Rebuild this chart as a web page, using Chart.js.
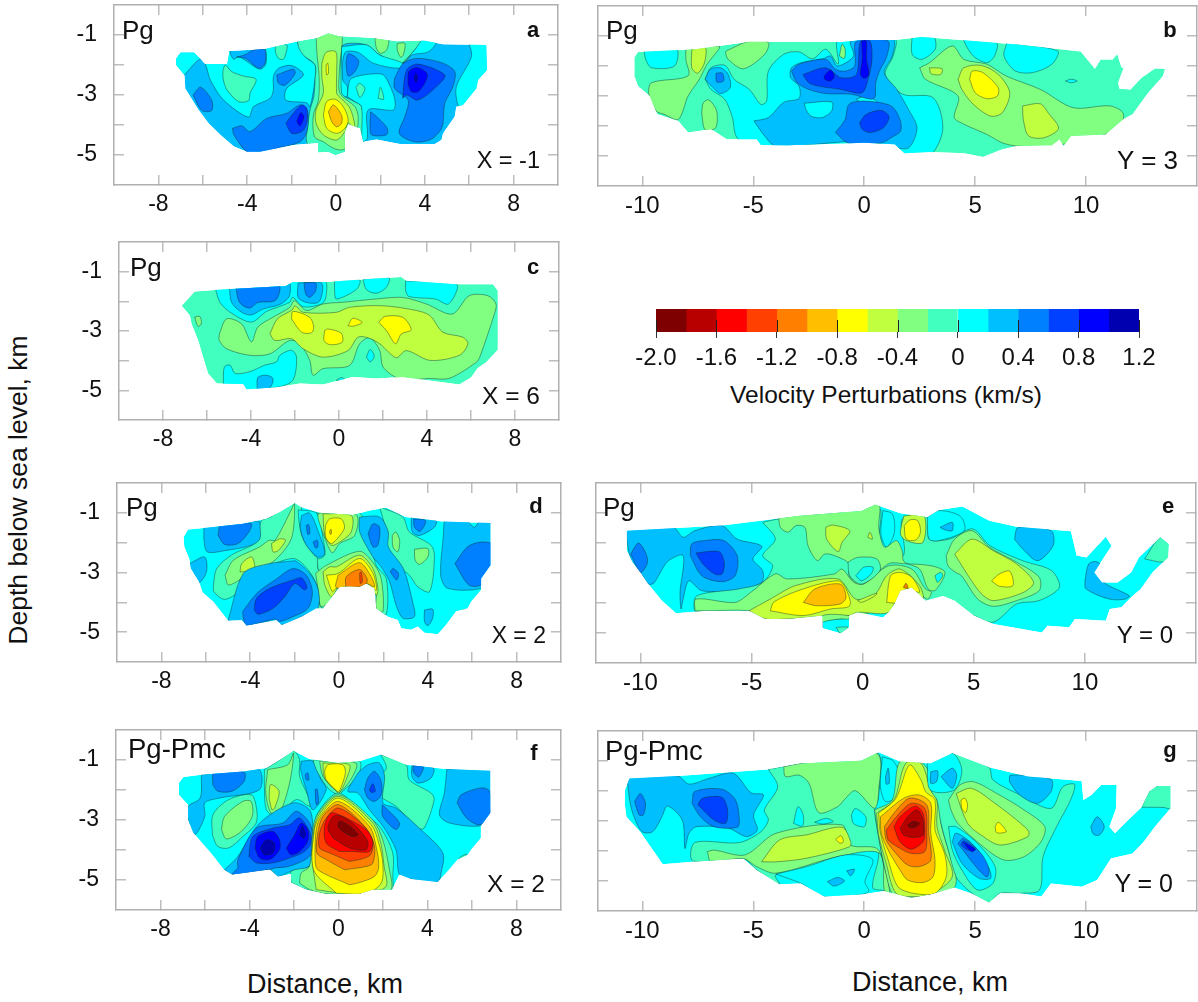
<!DOCTYPE html>
<html><head><meta charset="utf-8">
<script src="https://cdn.jsdelivr.net/npm/chart.js@4"></script>
<style>
html,body{margin:0;padding:0;background:#fff;width:1198px;height:1002px;overflow:hidden;font-family:"Liberation Sans",Arial,sans-serif;color:#111}
canvas{position:absolute}
.t{position:absolute;white-space:nowrap;line-height:1;transform:translateY(-50%)}
</style></head><body>
<script>
const bandEdges=[-2,-1.8,-1.6,-1.4,-1.2,-1,-0.8,-0.6,-0.4,-0.2,0,0.2,0.4,0.6,0.8,1];
const bandColors=['#7f0000','#b80000','#ff0000','#ff4000','#ff8000','#ffbf00','#ffff00','#bfff40','#80ff80','#40ffbf','#00ffff','#00bfff','#0080ff','#0040ff','#0000ff','#0000b0'];
const colorbarTicks=[-2,-1.6,-1.2,-0.8,-0.4,0,0.4,0.8,1.2];
const colorbarLabels=['-2.0','-1.6','-1.2','-0.8','-0.4','0','0.4','0.8','1.2'];
const shortDistanceTicks=[-8,-6,-4,-2,0,2,4,6,8];
const shortDistanceLabels=[-8,-4,0,4,8];
const longDistanceTicks=[-10,-5,0,5,10];
const longDistanceLabels=[-10,-5,0,5,10];
const depthTicks=[-5,-4,-3,-2,-1];
const depthLabels=[-1,-3,-5];

const aOutline=[-7.2,-1.78,-7,-1.58,-6.4,-1.58,-6.1,-1.8,-5.9,-1.97,-4.9,-1.97,-4.8,-1.53,-3.2,-1.47,-1.7,-1.22,-.87,-1.11,-.35,-.95,.18,-1.05,1.68,-1.11,2.73,-1.22,4,-1.19,4.82,-1.31,6.77,-1.33,6.8,-2.17,6.4,-2.5,6.32,-2.78,5.72,-3.33,5.42,-3.39,5.35,-3.72,4.82,-4.28,4.75,-4.5,4.45,-4.63,2.88,-4.63,1.83,-4.48,1.23,-4.56,1.08,-4.11,.55,-3.97,.4,-4.22,.4,-4.89,-.04,-5,-.34,-4.89,-.8,-4.91,-.8,-4.59,-1.92,-4.67,-3.42,-4.89,-4.01,-4.89,-4.6,-4.72,-5.2,-4.33,-5.74,-3.94,-6.19,-3.5,-6.79,-2.78,-6.83,-2.33,-7.2,-2];
const aBase=0.2;
const aContours=[
[0,[-6.83,-2.33,-6.14,-1.81,-5.89,-1.97,-5.66,-2.5,-5.06,-3.17,-3.94,-3.74,-3.72,-3.39,-2.97,-3.11,-2.82,-2.83,-2.82,-2.39,-2.59,-2.11,-1.99,-2.02,-1.47,-2.33,-2.22,-2.78,-2.26,-3.17,-1.32,-3.26,-1.17,-3.39,-.94,-2.44,-.94,-2,-1.39,-1.72,-1.77,-1.17,-1.77,-.8,-3.12,-.8,-3.15,-1.94,-3.42,-2.14,-4.16,-1.81,-4.39,-1.72,-4.61,-1.81,-4.79,-1.53,-4.91,-.8,-7.46,-.8,-7.46,-2.06]],
[.4,[-4.48,-1.74,-4.1,-1.66,-3.72,-1.5,-3.2,-1.5,-3.2,-1.94,-3.48,-2.11,-4.07,-1.78]],
[.4,[-2.67,-2.33,-1.92,-2.14,-1.84,-2.28,-2.29,-2.67,-2.59,-2.61]],
[-.2,[-5.09,-2.17,-4.99,-2,-4.7,-2.22,-4.16,-2.37,-3.6,-2.48,-3.87,-2.94,-3.94,-3.19,-4.39,-3.22,-4.91,-2.83,-5.09,-2.44]],
[-.2,[-2.73,-1.33,-2.22,-1.33,-2.22,-1.5,-2.37,-1.81,-2.59,-1.78,-2.73,-1.56]],
[-.2,[-1.77,-.8,-1.69,-1.39,-1.47,-1.67,-.94,-2,-.94,-2.44,-1,-3.06,-1.17,-3.5,-1.32,-4.28,-1.32,-4.56,-.79,-5.44,.4,-5.44,.4,-4.22,1.23,-4.56,1.15,-3.39,.7,-3.17,.33,-3,.25,-2.28,.25,-1.39,.55,-1.28,1.38,-1.33,1.98,-1.67,3,-1.94,3.54,-1.5,4.08,-1.06,4.08,-.7,-1.77,-.7]],
[-.4,[-.9,-.8,-.87,-1.5,-.76,-2.39,-.79,-3.17,-1.02,-3.67,-.97,-4.39,-.57,-4.56,-.04,-4.8,.4,-4.8,.93,-4.17,1,-3.72,.85,-3.39,.18,-2.94,.15,-2.22,.21,-.8]],
[-.4,[1.75,-1.11,2.35,-1.11,2.28,-1.5,2,-1.61,1.82,-1.44]],
[-.4,[2.76,-1.28,3.1,-1.28,3.03,-1.67,2.91,-1.74,2.76,-1.5]],
[-.6,[-.64,-1.94,-.45,-1.58,-.01,-1.56,.03,-2.22,.03,-2.94,.15,-3.06,.63,-3.44,.85,-4.11,.55,-3.94,.4,-4.22,.03,-4.5,-.57,-4.33,-.9,-3.94,-.9,-3.5,-.57,-2.94,-.64,-2.39]],
[-.8,[-.45,-2,-.37,-1.94,-.34,-2.28,-.42,-2.33]],
[-.8,[-.57,-3.67,-.42,-3.22,-.04,-3.14,.33,-3.39,.55,-3.83,.4,-4.11,.03,-4.28,-.42,-4.11]],
[-1,[-.34,-3.56,-.12,-3.33,.25,-3.67,.25,-3.94,.03,-4.06,-.19,-3.89]],
[0,[.25,-1.39,1.38,-1.33,1.98,-1.67,3,-1.94,2.85,-2.11,1.68,-1.94,1,-1.58,.4,-1.59,.3,-2.5,.51,-2.72,.48,-3.06,.25,-2.94]],
[0,[.51,-3.06,.63,-2.5,1,-2.37,1.6,-2.3,2.13,-2.33,2.51,-2.83,2.66,-3.22,2.58,-3.5,1.45,-3.5,1.41,-4.44,1.18,-4.56,1.15,-3.39,.85,-3.22]],
[-.2,[.9,-2.75,1.05,-2.61,1.3,-2.78,1.08,-3.08]],
[-.2,[1.9,-3.11,2,-2.74,2.15,-3.14]],
[0,[3,-1.94,3.4,-1.67,4.16,-1.56,4.52,-1.22,4.1,-1,3.54,-1.5]],
[0,[5.96,-1.2,6.1,-1.72,5.42,-2.72,5.49,-3.33,5.72,-3.5,7,-2.61,7,-1.1]],
[.4,[2.64,-2.44,3.03,-1.94,3.7,-1.78,4.82,-1.94,5.35,-2.22,5.27,-2.72,4.9,-3.28,4.82,-3.94,4.67,-4.22,4.22,-4.5,3.54,-4.56,2.85,-4.28,3.1,-3.72,3.25,-3.17,2.64,-2.78]],
[.6,[3.0,-3.11,3.18,-2.17,3.7,-1.97,4.9,-2.33,4.6,-2.67,3.7,-3.17,3.18,-3]],
[.8,[3.25,-2.67,3.28,-2.22,3.63,-2.08,4.1,-2.28,4.03,-2.56,3.7,-2.89,3.4,-2.89]],
[1,[3.52,-2.44,3.6,-2.28,3.67,-2.44,3.6,-2.58]],
[.4,[.45,-1.94,.55,-1.63,.85,-1.72,1.03,-1.89,.85,-2.22,.55,-2.37]],
[.4,[-6.44,-3,-6.1,-2.74,-5.6,-3.17,-5.6,-3.52,-6.04,-3.52]],
[.4,[-4.66,-4.11,-4.24,-4.03,-3.87,-4.22,-3.12,-3.78,-2.22,-3.61,-1.62,-3.33,-1.29,-3.5,-1.29,-4.17,-1.62,-4.56,-2.67,-4.78,-3.57,-5,-4.03,-4.89,-4.6,-4.33]],
[.6,[-2.26,-3.94,-1.92,-3.61,-1.54,-3.33,-1.32,-3.44,-1.32,-3.94,-1.54,-4.22,-1.99,-4.28]],
[.8,[-1.77,-3.89,-1.59,-3.59,-1.44,-3.72,-1.62,-4.03]],
[.4,[1.56,-3.56,1.83,-3.72,2.31,-4.11,2.27,-4.33,1.6,-4.33,1.53,-4.06]]
];

const bOutline=[-10.36,-1.72,-10.2,-1.53,-7.6,-1.44,-5.18,-1.19,-1.04,-1.2,0,-1.13,1.38,-1.13,2.6,-1.03,4.5,-1.14,6.9,-1.28,9.76,-1.52,10.4,-2.09,10.66,-1.78,11.2,-1.78,11.4,-1.6,11.6,-2.05,11.7,-2.05,11.45,-2.55,11.5,-2.76,12,-2.78,12.5,-2.39,13.1,-2.08,13.56,-2.09,13.47,-2.33,12.8,-2.89,12.1,-3.61,11.66,-3.78,10.88,-4.28,9.33,-4.33,8.98,-4.67,8.81,-4.44,8.46,-4.64,6.9,-4.67,6.2,-4.78,5.35,-5.03,4.5,-4.91,2.94,-4.87,1.81,-4.91,1.38,-4.61,0,-4.56,-3.45,-4.64,-4.66,-4.63,-4.84,-4.44,-6.2,-4.44,-6.9,-4.11,-7.94,-4.22,-8.38,-3.83,-9.33,-3.61,-9.67,-3,-10.2,-2.67,-10.36,-2.33];
const bBase=-0.2;
const bContours=[
[-.4,[-8.04,-1.42,-6.53,-1.33,-6.56,-1.44,-7.08,-1.94,-7.43,-2.44,-7.94,-3,-8.38,-3.78,-9.02,-3.61,-9.38,-3.5,-9.71,-2.94,-9.59,-2.56,-7.94,-2.33,-8.04,-1.78]],
[-.6,[-7.77,-1.44,-7.17,-1.37,-7.2,-1.89,-7.51,-2.24,-7.77,-2.06]],
[0,[-9.93,-1.44,-8.46,-1.44,-8.55,-2,-9.58,-2.06,-9.85,-1.78]],
[-.4,[-6.22,-1.5,-5.18,-1.17,-4.32,-1.22,-4.49,-1.61,-5.44,-2.09,-6.13,-1.78,-6.25,-1.56]],
[-.4,[-7.33,-3.56,-7.25,-3.22,-7,-3.13,-6.65,-3.5,-6.7,-4.06,-7.17,-4.13]],
[0,[-7.17,-2.44,-6.91,-2.06,-6.27,-1.98,-5.87,-2.44,-5.18,-2.78,-4.66,-3.28,-4.4,-3.17,-4.32,-2.17,-3.63,-1.61,-2.94,-1.53,-2.33,-1.76,-1.73,-1.44,-1.17,-1.94,-1.17,-1.1,1.38,-1.1,1.3,-1.67,.95,-2.28,1.73,-2.94,3.11,-3.06,3.54,-4.11,2.94,-5,1.55,-5.1,-3.95,-4.94,-5.68,-4.44,-5.96,-3.67,-6.3,-3.1,-6.91,-2.78]],
[.2,[-4.97,-3.83,-4.32,-3.72,-3.63,-3.21,-2.94,-3.08,-2.94,-2.67,-3.32,-2.39,-3.28,-2.06,-2.85,-1.89,-1.88,-1.76,-1.52,-1.67,-1.21,-2,-.48,-1.67,-.6,-1.17,1.3,-1.11,1.26,-1.67,.9,-2.22,1.47,-2.78,1.99,-3.44,2.38,-4.06,2.02,-4.72,1.38,-4.72,0,-4.5,-3.98,-4.67,-4.49,-4.33]],
[0,[-2.7,-3.24,-1.47,-3.2,-1.47,-3.5,-1.9,-3.72,-2.4,-3.67,-2.63,-3.44]],
[0,[-.35,-3.11,.09,-3,.6,-3.22,0,-3.28]],
[.2,[-7.17,-2.44,-6.94,-2.11,-6.47,-2.06,-6.13,-2.28,-6.04,-2.72,-6.47,-2.92,-6.82,-2.72]],
[.4,[-6.68,-2.24,-6.39,-2.24,-6.34,-2.5,-6.65,-2.53]],
[.4,[-3.28,-2.17,-2.94,-1.94,-1.73,-1.78,-1.3,-2.11,-.86,-2.17,-.43,-2,-.35,-1.17,1.07,-1.17,1,-1.72,.69,-2.17,.52,-2.56,.43,-3.09,-.6,-2.94,-1.73,-2.92,-2.5,-2.78,-3.02,-2.56]],
[.6,[-2.76,-2.28,-1.73,-2.06,-1.04,-2.39,-.35,-2.28,-.17,-1.17,.26,-1.17,.35,-1.78,.21,-2.33,-.09,-2.89,-1.04,-2.78,-2.07,-2.67,-2.5,-2.56]],
[.8,[-.12,-1.17,.09,-1.17,.1,-1.78,.21,-2.28,0,-2.41,-.17,-2.28,-.09,-1.78]],
[.8,[-1.81,-2.33,-1.52,-2.13,-1.35,-2.33,-1.52,-2.5,-1.78,-2.44]],
[.4,[-1.3,-4.22,-.86,-3.78,-.69,-3.28,0,-3.17,1.21,-3.33,1.61,-3.78,1.64,-4.17,1.21,-4.39,.78,-4.56,-.69,-4.58]],
[.6,[-.21,-3.89,.09,-3.61,.78,-3.48,1.12,-3.69,.86,-4.06,.26,-4.22,-.09,-4.11]],
[0,[2.16,-1,3.11,-1,3.2,-1.44,2.59,-1.78,2.16,-1.61]],
[0,[4.49,-1,5.96,-1.22,5.87,-1.67,5.53,-1.89,4.92,-1.67,4.49,-1.17]],
[0,[6.43,-1.22,8.72,-1.5,8.46,-1.94,7.59,-2.22,6.82,-2.17,6.3,-1.67]],
[-.4,[2.5,-2.06,2.94,-1.89,3.97,-1.33,4.49,-1.78,5.53,-1.94,6.39,-2.33,7.94,-2.78,9.42,-3.39,11.07,-3.33,11.66,-3.56,11.57,-4,10.88,-4.28,8.46,-4.67,6.9,-4.67,6.22,-4.56,5.53,-4.28,4.49,-3.94,4.06,-3.72,4.23,-3,2.76,-2.44]],
[-.6,[4.23,-2.44,4.49,-2.06,5.27,-1.98,6.04,-2.28,6.56,-2.89,6.22,-3.56,5.7,-3.67,4.92,-3.28,4.4,-2.78]],
[-.6,[2.94,-2.06,3.51,-2.09,3.45,-2.28,3.02,-2.26]],
[-.6,[7.14,-3.33,7.94,-3.26,8.29,-3.56,8.76,-4.08,8.11,-4.39,7.41,-4.33,7.17,-3.78]],
[-.8,[4.75,-2.44,4.87,-2.17,5.35,-2.22,6.04,-2.72,6,-3,5.53,-3.09,5,-2.89]],
[0,[9.07,-2.5,9.33,-2.44,9.6,-2.5,9.33,-2.56]],
[-.4,[-1.12,-1.67,-1,-1.28,-.86,-1.44,-.9,-1.75]]
];

const cOutline=[-7.15,-2.15,-6.56,-1.67,-5.5,-1.61,-2.43,-1.48,-2.1,-1.35,-.57,-1.35,1.69,-1.23,2.83,-1.18,3.06,-1.31,5.32,-1.42,7,-1.42,7.22,-1.64,7.22,-3.63,6.69,-4.05,6.31,-4.25,6,-4.57,5.47,-4.8,2.9,-4.55,1.69,-4.6,.63,-4.55,-.73,-4.8,-1.78,-4.77,-2.84,-4.9,-4.2,-4.96,-4.35,-4.79,-5.55,-4.77,-5.95,-4.43,-6.18,-3.88,-6.4,-3.32,-6.7,-2.76,-6.78,-2.48];
const cBase=-0.2;
const cContours=[
[0,[-5.7,-1.3,-5.41,-2.04,-4.82,-2.43,-3.98,-2.7,-3.29,-2.34,-2.25,-2.04,-2.1,-1.87,-1.63,-2.18,-.8,-2.09,-.6,-1.87,-.65,-1.3,-2.25,-1.3]],
[.2,[-4.99,-1.49,-4.88,-2.04,-4.43,-2.37,-3.98,-2.46,-3.45,-2.26,-2.67,-2.1,-2.25,-1.81,-2.33,-1.3,-4.99,-1.3]],
[.2,[-1.86,-1.38,-1.86,-1.87,-1.48,-2.04,-.95,-2.04,-.77,-1.76,-.8,-1.38]],
[.4,[-4.7,-1.49,-4.52,-2.04,-4.07,-2.23,-3.69,-2.04,-2.91,-1.98,-2.69,-1.64,-2.76,-1.4,-4.7,-1.4]],
[.4,[-1.59,-1.38,-1.51,-1.76,-1.33,-1.87,-1.06,-1.64,-1.06,-1.38]],
[0,[-.2,-1.3,.94,-1.28,.79,-1.6,-.12,-1.92,-.2,-1.64]],
[0,[1.09,-1.25,2.27,-1.2,2.15,-1.53,1.69,-1.73,1.24,-1.6]],
[0,[3.03,-1.31,5.35,-1.42,4.98,-2.09,4.37,-1.92,3.18,-1.84,3.03,-1.64]],
[-.4,[-5.44,-3.1,-5.11,-2.59,-4.43,-2.76,-3.98,-3.37,-3.69,-2.87,-3.01,-2.54,-2.25,-2.21,-2.02,-1.98,-1.48,-2.31,-.73,-2.09,.18,-2.03,1.69,-1.92,2.9,-1.87,3.97,-2.09,5.15,-2.43,5.92,-1.81,6.77,-1.81,7.14,-2.09,7.06,-2.43,6.4,-3.88,6.25,-4.05,5,-4.6,4.1,-4.6,3.2,-4.65,2.67,-4.6,2,-4.21,1.85,-3.65,1.4,-3.23,.94,-3.43,.48,-4.16,-.73,-4.27,-1.18,-4.49,-1.33,-3.99,-1.78,-3.43,-2.25,-3.32,-3.14,-3.77,-4.05,-3.82,-5.11,-3.6,-5.44,-3.32]],
[-.6,[-3.14,-3.1,-2.8,-2.59,-2.13,-2.29,-2,-2.15,-1.63,-2.37,-.12,-2.37,.48,-2.2,2,-2.15,3.52,-2.31,4.13,-2.48,4.72,-3.04,5.63,-3.21,5.86,-3.43,5.47,-3.82,4.13,-3.99,3.06,-3.66,2.6,-3.9,1.85,-3.43,1.32,-3.23,.86,-3.21,.41,-3.66,-.73,-3.88,-1.63,-3.6,-2.16,-3.26,-2.91,-3.32]],
[-.8,[-2.16,-2.59,-2.09,-2.34,-1.33,-2.54,-1.15,-2.87,-1.25,-3.06,-1.7,-3.04]],
[-.8,[-.65,-2.98,-.5,-2.93,.11,-3.08,.14,-3.38,-.42,-3.46,-.68,-3.32]],
[-.8,[.41,-2.82,.63,-2.57,1.05,-2.71,.63,-2.84]],
[-.8,[1.81,-2.71,2.07,-2.51,2.9,-2.54,3.28,-2.96,2.83,-3.1,2.57,-3.43,2.15,-2.98]],
[-.4,[-6.56,-2.53,-6.32,-2.51,-6.26,-2.76,-6.41,-2.84]],
[0,[-5.26,-4.77,-5.21,-4.21,-4.95,-4.15,-4.72,-4.43,-4.05,-4.37,-3.37,-4.15,-2.84,-4.04,-2.69,-3.82,-2.16,-3.65,-1.93,-3.88,-2.1,-4.66,-2.84,-4.9,-5.26,-5]],
[.2,[-3.72,-5,-3.69,-4.57,-3.31,-4.49,-3,-4.6,-3.14,-4.91]],
[0,[1.24,-3.88,1.42,-3.62,1.6,-3.85,1.42,-4.04]],
[0,[-.12,-4.66,.11,-4.57,.3,-4.66]]
];

const dOutline=[-7,-1.81,-6.8,-1.56,-5.97,-1.5,-4.31,-1.37,-3.27,-1.2,-2.67,-.98,-2,-.68,-1.69,-.81,-.87,-1,.63,-1.07,1.38,-.92,2.13,-.83,3,-1.14,4.67,-1.29,6.82,-1.34,6.82,-2.76,6.4,-3.2,6.4,-3.59,5.95,-3.98,5.8,-4.2,5.27,-4.31,4.82,-4.76,4.45,-5.07,3.85,-5.02,3.55,-4.81,3.25,-4.92,2.8,-4.87,2.65,-4.59,2.2,-4.48,1.68,-4.2,1.6,-3.53,1.23,-3.37,.93,-3.48,.48,-3.46,.03,-3.48,-.72,-4.2,-1.02,-4.2,-1.69,-4.48,-2.58,-4.76,-2.82,-4.59,-4.16,-4.78,-4.38,-4.59,-5,-4.61,-5.66,-3.98,-6.15,-3.66,-6.3,-3.32,-6.67,-2.87,-6.75,-2.53,-6.97,-2.14];
const dBase=0;
const dContours=[
[.2,[-6.08,-1.45,-3.96,-1.3,-3.57,-1.3,-3.51,-1.87,-3.96,-2.09,-5.08,-2.26,-5.93,-2.31,-6.08,-1.92]],
[.2,[-6.73,-2.7,-6.05,-2.48,-5.97,-2.98,-6.37,-3.37,-6.82,-2.81]],
[.4,[-5.45,-1.76,-5.3,-1.37,-3.96,-1.37,-4.06,-1.64,-4.55,-2.03,-5.15,-2.06]],
[-.2,[-5.66,-3.42,-5.51,-2.87,-4.85,-2.42,-3.6,-1.92,-3.52,-1.29,-3.1,-1.14,-2,-.66,-1.69,-.8,-1.78,-1.2,-1.63,-1.7,-.95,-2.42,-.95,-2.87,-.8,-3.04,-.95,-3.27,-.72,-4.2,-.95,-4.3,-.95,-3.59,-1.32,-2.98,-2.07,-2.53,-3.72,-3.03,-4.4,-3.59,-5.15,-3.9,-5.63,-3.65]],
[-.2,[-1,-.9,.93,-1,1.68,-2.76,2.13,-3.21,2.13,-4.4,1.68,-4.2,1.6,-3.53,-.72,-4.2,-.95,-3.27,-.8,-3.04,-.95,-2.87]],
[-.2,[1.83,-.8,2.87,-1.14,3.17,-1.64,4.15,-2.09,4.3,-2.48,4.08,-3.64,3.55,-3.48,3.17,-3.09,2.65,-2.76,2.13,-2.09,2.13,-1.64]],
[0,[-1.84,-.9,-1,-1.02,-.72,-1.87,-.64,-2.42,-.95,-2.53,-1.62,-1.87,-1.8,-1.31]],
[.2,[-1.69,-1.09,-1.32,-1.01,-.95,-1.59,-.64,-2.37,-.95,-2.48,-1.47,-2.09,-1.74,-1.53]],
[.4,[-1.47,-1.42,-1.36,-1.4,-1.32,-1.7,-1.41,-1.72]],
[.4,[-1.17,-1.98,-.98,-1.92,-.95,-2.14,-1.05,-2.18]],
[-.4,[-.95,-1.03,-.72,-1,.78,-1.07,.7,-1.76,.03,-2.03,-.3,-2.34,-.57,-1.98,-.94,-1.2]],
[-.6,[-.72,-1.03,.55,-1.09,.55,-1.64,.03,-1.98,-.34,-2.09,-.64,-1.76]],
[-.8,[-.61,-1.42,-.42,-1.2,.1,-1.2,.25,-1.48,.1,-1.7,-.34,-2.03,-.6,-1.81]],
[-1,[-.42,-1.62,-.36,-1.55,-.34,-1.7,-.4,-1.72]],
[-.4,[-1.05,-3.03,-.57,-2.76,.93,-2.29,1.53,-2.67,1.9,-3.2,1.98,-4.31,1.68,-4.2,1.6,-3.53,.03,-3.48,-.42,-3.98,-.81,-4.14,-.94,-3.59]],
[-.6,[-.72,-2.98,-.42,-2.81,-.12,-2.81,.93,-2.42,1.53,-2.87,1.75,-3.53,1.68,-3.76,1.3,-3.37,.03,-3.48,-.34,-3.81,-.64,-3.42]],
[-.8,[-.57,-3.09,-.04,-3.03,.93,-2.53,1.53,-3.03,1.68,-3.59,1.23,-3.37,-.12,-3.53,-.3,-3.64]],
[-1,[-.04,-3.09,.93,-2.67,1.45,-3.14,1.6,-3.48,1.23,-3.37,.9,-3.48,-.12,-3.51]],
[-1.2,[.3,-3.48,.33,-3.14,.93,-2.9,1.26,-3.2,1.23,-3.37,.93,-3.48]],
[-1.4,[.93,-3.03,1,-2.98,1.05,-3.31,.96,-3.37]],
[-.4,[-5.13,-3.09,-4.76,-2.59,-3.57,-2.14,-3.15,-1.92,-2.88,-1.92,-2.16,-.92,-2,-.69,-2.15,-1.87,-2.97,-2.64,-4,-3.03,-4.97,-3.42]],
[-.6,[-4.46,-2.98,-4.38,-2.7,-3.93,-2.48,-3.82,-2.92]],
[-.6,[-3.04,-2.03,-2.67,-1.87,-2.41,-1.92,-2.73,-2.26,-2.97,-2.31]],
[.2,[-5,-4.61,-4.31,-3.03,-3.27,-2.72,-2.16,-2.62,-1.93,-2.62,-1.32,-3.03,-.95,-3.53,-.95,-4.2,-1.69,-4.48,-2.58,-4.76,-3,-4.64,-4.16,-4.78]],
[.4,[-4.34,-4.31,-3.69,-3.69,-2.82,-3.22,-2.07,-2.87,-1.47,-3.09,-1.2,-3.64,-1.39,-4.2,-2.07,-4.48,-2.67,-4.64,-2.88,-4.56,-4.16,-4.78,-4.28,-4.64]],
[.6,[-3.82,-4.26,-3.72,-3.87,-3.12,-3.53,-2.07,-3.25,-1.69,-3.18,-1.44,-3.48,-1.54,-3.59,-1.99,-3.37,-2.44,-3.81,-2.97,-4.2,-3.64,-4.4]],
[.2,[.93,-1.14,1.83,-1.14,2.22,-1.64,2.22,-2.14,2.9,-2.87,3.33,-4.03,3.4,-4.48,2.88,-4.53,2.57,-4.09,2.28,-3.31,1.9,-2.81,1.53,-2.48,.93,-1.64]],
[.4,[1.31,-1.7,1.53,-1.37,1.83,-1.48,1.75,-2.09,1.53,-2.14]],
[.4,[2.31,-2.98,2.43,-2.87,2.68,-3.03,2.6,-3.25]],
[-.4,[2.4,-1.76,2.55,-1.64,2.73,-1.92,2.65,-2.31,2.43,-2.14]],
[-.4,[3.4,-2.22,4,-2.2,4,-2.48,3.63,-2.73,3.43,-2.59]],
[.2,[3.25,-1.14,4.37,-1.26,4.3,-1.48,3.63,-1.76,3.3,-1.64]],
[.4,[3.36,-1.2,3.9,-1.26,3.66,-1.62,3.4,-1.48]],
[.2,[4.74,-1.2,5.65,-1.2,6.1,-1.48,6.4,-1.2,7,-1.2,7,-3.09,6.4,-3.53,4.89,-3.53,4.58,-3.09,4.7,-1.76]],
[.4,[5.22,-2.7,5.79,-2.14,6.4,-1.98,7,-2.09,7,-2.98,6.4,-3.42,5.85,-3.42]],
[.2,[3.85,-4.26,4.22,-4.23,4.22,-4.53,4,-4.78,3.85,-4.64]],
[-.2,[5.35,-4.48,5.57,-4.26,5.92,-4.23,5.6,-4.34]]
];

const eOutline=[-10.61,-1.59,-6.34,-1.42,-4.6,-1.26,-2.86,-1.09,-.05,-.93,.56,-.72,1.69,-1.01,2.91,-1.14,3.44,-.9,4.49,-.78,5.7,-1.26,6.93,-1.46,9.37,-1.61,9.63,-2.42,10.07,-2.48,10.94,-1.79,11.2,-2.09,10.42,-2.98,10.77,-3.32,11.47,-3.32,12.08,-2.98,12.43,-2.48,13.39,-1.81,13.77,-2.03,13.74,-2.48,13.04,-2.98,12.51,-3.53,12.08,-3.81,11.64,-4.14,11.12,-4.2,10.94,-4.59,9.55,-4.53,9.29,-4.81,8.32,-4.76,8.06,-4.98,5.88,-4.7,5.01,-4.42,4.14,-3.92,3.62,-3.76,2.84,-3.92,2.21,-3.48,1.69,-3.59,1.43,-4.03,1.17,-4.31,.91,-4.48,-.23,-4.31,-.61,-4.42,-.61,-4.81,-1,-5.01,-1.8,-4.84,-1.8,-4.42,-3.37,-4.53,-4.4,-4.53,-5.12,-4.26,-7.03,-4.26,-8.4,-4.34,-9.04,-3.92,-9.65,-3.37,-10,-2.98,-10.35,-2.64,-10.61,-2.26];
const eBase=0;
const eContours=[
[.2,[-10.7,-1.53,-8.52,-1.48,-8.08,-1.81,-7.56,-1.59,-6.34,-1.42,-5.65,-1.87,-4.54,-2.11,-4.94,-2.53,-4.5,-2.92,-4.54,-3.31,-5.56,-3.59,-7.24,-3.59,-7.82,-3.26,-8.08,-3.87,-8.17,-4.2,-8.22,-3.65,-8.08,-2.42,-8.78,-2.62,-9.39,-3.33,-9.65,-3.37,-10,-2.98,-10.4,-2.64]],
[.4,[-7.76,-2.42,-7.69,-2.03,-7.12,-1.92,-6.25,-1.92,-5.65,-2.42,-5.74,-3.09,-6.34,-3.29,-7.24,-3.09]],
[.6,[-7.5,-2.33,-6.46,-2.29,-6.23,-2.64,-6.32,-3.03,-6.67,-3.03,-7.19,-2.7]],
[.4,[-10.44,-2.37,-10.09,-2,-9.74,-2.37,-9.7,-2.7,-10,-2.98]],
[-.2,[-4.5,-1.31,-3.79,-1.2,-2.3,-1.07,-1.1,-.98,.56,-.8,.82,-.92,.73,-2.2,1.17,-2.64,1.86,-2.37,1.78,-1.2,2.91,-1.14,2.99,-1.87,3.9,-1.87,4.95,-1.53,5.73,-2.09,7.2,-2.59,8.5,-2.92,8.85,-3.48,7.94,-3.92,6.93,-4.03,5.88,-4.64,5.01,-4.42,4.45,-4.2,3.76,-3.87,2.84,-3.92,2.38,-3.53,-.05,-3.53,-5.12,-4.26,-7.03,-4.26,-7.55,-4.26,-7.46,-3.76,-5.56,-3.53,-4.5,-3.31,-4.05,-2.76,-4.5,-2.42,-3.93,-1.87]],
[0,[.91,-.92,1.34,-1.03,1.43,-1.64,1.08,-2.14,.82,-1.7]],
[0,[2.91,-1.14,3.44,-.92,4.4,-1.11,4.57,-1.59,3.44,-1.92,2.99,-1.87]],
[.2,[3.48,-1.48,4.03,-1.31,4.03,-1.59,3.7,-1.56]],
[-.4,[-3.79,-1.07,.64,-.64,.73,-1.53,.99,-2.14,1.52,-1.92,1.78,-2.26,1.86,-2.62,2.56,-2.87,2.94,-3.53,3.26,-3.58,3.7,-2.98,3.09,-2.76,1.86,-2.69,1.17,-2.69,-.05,-3.42,-.61,-3.09,-.61,-2.69,-1.27,-2.42,-1.71,-2.37,-2.04,-2.59,-2.46,-2.09,-2.6,-1.48,-3,-1.42,-3.35,-1.64,-3.7,-1.48]],
[-.4,[-7.55,-4.26,-7.5,-3.87,-5.74,-3.98,-5.04,-3.65,-3.93,-3.03,-3.4,-3.2,-1.27,-3.03,-.93,-2.87,-.4,-3.31,.04,-3.37,1.17,-2.76,2.21,-2.87,2.82,-3.53,3.09,-3.64,2.91,-3.87,2.21,-3.53,-.05,-4.42,-3.37,-4.56,-5.12,-4.26,-7.03,-4.26]],
[-.6,[-5.12,-4.26,-4.16,-3.87,-3.02,-3.42,-1.1,-3.2,-.31,-3.87,.56,-3.7,1.08,-3.09,1.69,-2.87,2.56,-3.42,2.73,-3.87,2.21,-3.53,1.69,-3.59,1.17,-4.31,-.23,-4.31,-.61,-4.42,-1.8,-4.44,-3.37,-4.53,-4.4,-4.53]],
[-.8,[-4.16,-4.26,-3.98,-3.96,-2.67,-3.53,-1.1,-3.26,-.75,-3.53,-.58,-4.09,-1.45,-4.2,-2.67,-4.42]],
[-.8,[1.08,-3.98,1.26,-3.09,1.69,-2.98,2.21,-3.14,2.56,-3.64,1.95,-3.53,1.52,-3.98]],
[-1,[-2.67,-3.98,-2.15,-3.53,-1,-3.37,-.75,-3.81,-1,-4.03,-2.09,-4.09]],
[-1.2,[1.83,-3.48,1.95,-3.34,2.04,-3.51]],
[-.4,[-1.8,-4.81,-1.8,-4.42,-.61,-4.42,-.61,-4.53,-1,-4.53,-1.8,-4.64]],
[-.2,[-1.19,-4.81,-.66,-4.81,-1,-5.01]],
[-.6,[-.23,-3.92,.64,-3.67,.56,-3.76,-.05,-3.98]],
[-.6,[-1.66,-1.48,-1.36,-1.4,-.58,-1.59,-.93,-1.98,-1.1,-2.29,-1.62,-1.87]],
[-.6,[.23,-1.81,.33,-1.64,.44,-1.87]],
[-.6,[1.85,-1.1,2.75,-1.07,2.71,-1.98,1.96,-1.92,1.7,-1.7]],
[-.8,[1.87,-1.42,2.13,-1.23,2.48,-1.26,2.6,-1.64,2.39,-1.9,1.96,-1.87]],
[-.2,[-.66,-2.64,-.23,-2.48,.64,-2.53,.78,-2.92,-.05,-3.37,-.58,-3.09]],
[0,[-.31,-3.09,.04,-2.81,.47,-2.81,.38,-3.03,-.05,-3.26]],
[0,[3.25,-3.09,3.51,-2.98,3.6,-3.09,3.37,-3.31]],
[-.4,[3.76,-2.42,4.14,-1.87,4.92,-1.59,5.7,-2.14,6.93,-2.64,7.94,-3.14,7.94,-3.59,6.93,-3.92,5.88,-4.11,5.18,-3.87,4.45,-3.09,4.19,-2.98,3.84,-2.76]],
[-.6,[4.14,-2.37,4.92,-1.87,5.88,-2.26,6.93,-2.7,7.69,-3.31,7.25,-3.64,5.88,-3.92,5.35,-3.7,4.75,-3.09]],
[-.8,[5.8,-3.26,6.15,-3.03,6.62,-2.94,6.76,-3.42,6.15,-3.44]],
[.2,[6.83,-1.87,7,-1.48,8.48,-1.59,8.57,-2.09,7.87,-2.59,7.2,-2.2]],
[.2,[10,-3.26,10.17,-2.7,10.52,-2.62,10.87,-2.87,10.87,-3.31,12.0,-3.76,11.82,-3.87,11.1,-3.87,10.05,-3.53]],
[-.2,[12.69,-2.53,13.39,-1.81,13.85,-2.03,13.77,-2.53,13.5,-2.64]]
];

const fOutline=[-7.175,-1.77,-6.97,-1.57,-6.16,-1.49,-4.28,-1.38,-3.24,-1.27,-2.5,-.93,-2.02,-.69,-1.31,-.97,-.03,-1.1,.94,-1.04,1.9,-.82,3.03,-1.16,4.82,-1.3,6.82,-1.36,6.82,-2.77,6.4,-3.19,6.4,-3.6,5.96,-3.99,5.81,-4.16,5.36,-4.32,4.84,-4.77,4.46,-5.07,3.27,-4.97,2.74,-4.82,2.41,-5.32,1.54,-5.32,.94,-5.46,-.55,-5.46,-1.45,-5.32,-2.13,-5.08,-2.13,-4.8,-2.72,-4.88,-3.09,-4.65,-4.78,-4.82,-5.15,-4.66,-5.67,-4.16,-6.52,-3.43,-6.76,-2.99,-6.76,-2.5,-7.175,-2.16];
const fBase=0;
const fContours=[
[.2,[-6.16,-1.49,-3.6,-1.3,-3.55,-1.99,-5.36,-2.27,-6.01,-2.43,-6.01,-2.88,-6.46,-3.49,-6.76,-2.99,-6.76,-2.55,-6.22,-2.27]],
[.4,[-5.65,-1.82,-5.58,-1.38,-4.24,-1.41,-4.24,-1.71,-4.78,-2.04,-5.43,-2.04]],
[-.2,[-5.67,-3.49,-5.64,-2.82,-4.93,-2.32,-3.93,-2.16,-3.7,-2.54,-3.7,-3.1,-4.28,-3.54,-4.93,-3.93,-5.43,-3.88]],
[-.4,[-5.26,-3.32,-5.12,-2.88,-4.3,-2.38,-3.93,-2.38,-3.88,-2.88,-4.37,-3.38,-5.04,-3.63]],
[-.2,[-3.33,-1.32,-2.5,-.93,-2.02,-.69,-1.75,-.99,-1.75,-1.54,-1.3,-2.32,-1.3,-2.54,-1.9,-2.32,-2.79,-2.88,-3.24,-2.66,-3.33,-1.88]],
[-.4,[-3.18,-1.32,-2.28,-1.16,-2.02,-.77,-2.2,-1.77,-2.65,-2.77,-3.03,-2.77,-3.27,-2.1]],
[-.6,[-3.12,-2.27,-3.05,-1.82,-2.67,-2.04,-2.87,-2.6,-2.99,-2.66]],
[.2,[-1.675,-1.04,-1.16,-1.04,-.78,-1.66,-.55,-1.99,-1.15,-2.66,-1.45,-1.99,-1.7,-1.32]],
[.4,[-1.5,-1.49,-1.38,-1.43,-1.33,-1.66,-1.45,-1.66]],
[.4,[-1.05,-1.99,-.96,-1.97,-.9,-2.43,-1,-2.49]],
[-.2,[-1.15,-1,.94,-1.04,.87,-1.54,.19,-2.04,0,-2.16,-.4,-1.99,-.7,-1.71,-1,-1.32]],
[-.4,[-.85,-1.04,.79,-1.1,.64,-1.54,.12,-2.04,-.1,-2.04,-.7,-1.54]],
[-.6,[-.7,-1.1,.49,-1.16,.34,-1.66,.04,-2.1,-.1,-2.04,-.63,-1.6]],
[-.8,[-.63,-1.38,-.48,-1.16,.19,-1.16,.31,-1.43,.04,-2.04,-.06,-2.04,-.55,-1.66]],
[-.2,[1.9,-.82,3.03,-1.16,3.18,-1.66,4.15,-2.1,4.3,-2.32,3.85,-3.27,3.55,-3.27,3.03,-2.88,2.58,-2.54,1.9,-2.21,1.69,-1.71,2.15,-1.27]],
[.2,[.87,-1.43,1.32,-1.16,1.84,-1.1,2.07,-1.54,2,-2.43,2.58,-2.6,3.63,-3.27,4.69,-4.1,4.61,-4.77,4.46,-5.07,3.27,-4.97,2.74,-4.82,2.58,-3.99,2,-3.21,1.39,-2.66,.87,-2.1,.42,-2.04]],
[.4,[1.165,-1.99,1.32,-1.6,1.62,-1.38,1.92,-1.71,1.92,-2.16,1.62,-2.38,1.32,-2.27]],
[.6,[1.39,-1.99,1.54,-1.79,1.65,-2.04,1.47,-2.08]],
[.4,[1.96,-2.49,2.13,-2.6,2.74,-3.1,2.58,-3.32,1.99,-2.88]],
[.2,[3.3,-1.16,4.27,-1.27,4.16,-1.6,3.57,-1.77,3.3,-1.54]],
[.4,[3.36,-1.19,3.81,-1.23,3.6,-1.57,3.36,-1.38]],
[.2,[4.87,-1.3,6.82,-1.36,6.82,-2.83,6.4,-3.19,4.99,-3.1,4.54,-2.83,4.76,-2.1]],
[.4,[5.33,-2.43,5.51,-2.16,6.4,-1.93,6.79,-2.04,6.82,-2.83,6.34,-3.16,5.75,-2.93]],
[-.2,[5.36,-4.54,5.43,-4.27,5.76,-4.14,5.66,-4.27]],
[.2,[-5.12,-4.66,-4.52,-4.21,-3.54,-3.1,-2.05,-2.43,-1.3,-2.66,-1.15,-3.32,-1.2,-3.99,-1.3,-4.54,-2.13,-4.71,-2.72,-4.88,-3.09,-4.65,-4.78,-4.82]],
[.4,[-4.52,-4.6,-4.52,-4.32,-3.69,-3.27,-2.5,-3.1,-1.9,-2.71,-1.3,-3.1,-1.15,-3.66,-1.3,-4.21,-2.2,-4.54,-2.87,-4.6,-3.09,-4.65,-4.78,-4.82]],
[.6,[-4.03,-4.21,-3.85,-3.55,-2.95,-3.27,-2.2,-3.16,-1.75,-2.93,-1.3,-3.38,-1.23,-3.77,-1.53,-4.05,-2.2,-4.27,-2.95,-4.43,-3.69,-4.43]],
[.8,[-3.75,-3.94,-3.63,-3.55,-2.95,-3.38,-2.65,-3.66,-2.65,-3.99,-3.09,-4.32,-3.54,-4.27]],
[.8,[-2.35,-3.94,-1.98,-3.5,-1.68,-3.1,-1.38,-3.32,-1.38,-3.71,-1.75,-4.05,-2.13,-4.16]],
[1,[-3.52,-3.94,-3.24,-3.66,-2.87,-3.77,-2.95,-4.1,-3.33,-4.16]],
[1,[-1.75,-3.49,-1.63,-3.21,-1.48,-3.49,-1.57,-3.6]],
[-.2,[-2.13,-5.08,-2.13,-4.71,-1.3,-4.54,-1.15,-4.1,-1,-2.88,-.03,-2.1,1.09,-2.77,1.84,-3.21,2.44,-4.1,2.44,-4.88,2.41,-5.32,1.54,-5.32,.94,-5.46,-.55,-5.46,-1.45,-5.32]],
[-.4,[-1.75,-5.1,-1.68,-4.77,-1.3,-4.54,-1.18,-3.55,-1,-2.88,0,-2.16,1.54,-3,1.99,-3.66,2.29,-4.66,2.36,-5.32,1.54,-5.32,.94,-5.46,-.55,-5.46,-1.3,-5.32]],
[-.6,[-1,-5.32,-1.18,-4.32,-1.12,-3.43,-.93,-2.88,0,-2.21,1.54,-3.1,1.9,-3.77,2.05,-4.55,2.14,-5.21,1.39,-5.42,.19,-5.44]],
[-.8,[-.1,-5.44,-1.12,-4.66,-1.08,-3.32,-.85,-2.88,0,-2.27,1.47,-3.16,1.81,-3.77,1.99,-4.44,1.92,-5.1,1.24,-5.46]],
[-1,[.49,-5.16,-.93,-4.66,-1.05,-4.32,-1,-3.32,-.78,-2.88,0,-2.38,1.39,-3.21,1.69,-3.88,1.81,-4.55,1.62,-4.88,.87,-5.1]],
[-1.2,[.27,-4.66,-.55,-4.32,-.97,-4.1,-.93,-3.43,-.7,-2.88,0,-2.49,1.24,-3.27,1.62,-3.88,1.54,-4.44,1.24,-4.55]],
[-1.4,[.49,-4.38,-.4,-4.1,-.85,-3.93,-.85,-3.43,-.55,-2.93,0,-2.6,1.09,-3.16,1.54,-3.71,1.44,-4.16,.94,-4.32]],
[-1.6,[.04,-4.05,-.55,-3.77,-.63,-3.21,-.33,-2.77,.19,-2.88,1.24,-3.32,1.54,-3.71,1.39,-4.05,.64,-4.05]],
[-1.8,[-.25,-3.6,-.48,-3.27,-.25,-2.88,.19,-2.88,.79,-3.21,1.31,-3.71,1.24,-3.99,.49,-3.93]],
[-2,[-.03,-3.21,.04,-3.04,.42,-3.16,.87,-3.49,.64,-3.55,.19,-3.38]]
];

const gOutline=[-10.79,-1.97,-10.58,-1.58,-8.4,-1.5,-5.77,-1.36,-4.37,-1.28,-2.89,-1.08,-.14,-.99,.65,-.71,1.61,-1.02,3,-1.08,3.97,-.74,5.62,-1.21,7.38,-1.52,9.8,-1.67,9.88,-2.3,10.24,-2.13,10.68,-1.8,11.38,-1.8,11.35,-2.58,11.05,-3.19,11.3,-3.41,11.9,-2.97,12.5,-2.54,12.85,-2.02,13.2,-1.83,13.8,-1.83,13.8,-2.58,13.1,-3.19,12.6,-3.69,12.09,-4.08,11.12,-4.25,10.5,-4.97,9.8,-5.19,8.42,-5.08,7.98,-5.52,7,-5.41,6.12,-5.41,5.62,-5.72,4.92,-5.44,4.05,-5.22,3,-5.44,2.12,-5.56,.91,-5.33,-.05,-5.44,-1.8,-5.52,-2.85,-5.08,-3.81,-5.11,-4.85,-4.63,-5.46,-4.25,-7.73,-4.36,-9.08,-4.44,-10.1,-3.36,-10.72,-2.86,-10.8,-2.41];
const gBase=0;
const gContours=[
[.2,[-10.7,-1.52,-8.4,-1.5,-7.9,-1.77,-7,-1.58,-5.9,-1.41,-5.1,-2.06,-4.54,-2.13,-4.99,-2.8,-4.82,-3.3,-5.31,-3.52,-6.12,-3.24,-7.56,-3.19,-7.9,-3.41,-8.08,-3.92,-8.2,-2.97,-8.87,-2.5,-9.12,-2.86,-9.54,-3.36,-10.01,-3.36,-10.35,-2.91,-10.55,-2.41]],
[.4,[-7.76,-2.41,-7.64,-2.02,-6.42,-1.94,-5.8,-2.3,-5.63,-2.97,-5.72,-3.21,-6.77,-3.19,-7.38,-2.86]],
[.6,[-7.5,-2.46,-7.29,-2.24,-6.42,-2.21,-6.16,-2.63,-6.25,-3.08,-6.77,-2.97]],
[.4,[-10.35,-2.35,-10.09,-2.08,-9.86,-2.41,-9.96,-2.8,-10.14,-2.8]],
[-.2,[-4.32,-1.28,-2.87,-1.08,.56,-.71,.65,-2.19,.47,-2.63,.65,-3.52,.91,-4.52,1.33,-5.52,.91,-5.33,.38,-5.22,.65,-4.08,.21,-3.97,-1.19,-4.19,-2.77,-4.63,-4,-4.8,-3.81,-5.11,-4.85,-4.63,-5.46,-4.25,-7.73,-4.33,-7.64,-3.72,-5.63,-3.72,-4.66,-3.36,-4.32,-2.97,-4.5,-2.63,-3.9,-1.86]],
[-.4,[-3.63,-1.19,-2.87,-1.08,.56,-.75,.65,-2.02,.47,-2.58,-.4,-1.99,-.91,-2.3,-1.19,-2.52,-2.05,-2.72,-2.49,-1.74,-2.94,-1.47,-3.55,-1.52]],
[-.4,[-7.07,-4.02,-6.77,-3.97,-5.37,-4.13,-3.98,-3.41,-1,-3.13,-.63,-3.8,.56,-3.91,.91,-4.52,1.15,-5.43,.91,-5.33,.7,-4.08,-1.19,-4.19,-3.98,-4.74,-4.85,-4.52,-5.46,-4.25,-6.9,-4.36]],
[0,[-3.19,-3.08,-2.98,-2.52,-2.75,-2.8,-2.79,-3.17]],
[0,[-2.24,-3.04,-1.71,-2.91,-1.4,-3.02,-1.89,-3.1]],
[0,[-.58,-2.8,-.4,-2.58,.07,-2.86,0,-3.19,-.49,-3.08]],
[-.6,[-4.63,-4.36,-3.81,-3.63,-2.59,-3.46,-1,-3.21,-.61,-3.69,-.66,-3.86,-2.59,-4.24,-3.95,-4.36]],
[-.8,[-1.28,-3.61,-1.05,-3.49,-.94,-3.69,-1.1,-3.74]],
[0,[-3.98,-4.77,-2.59,-4.52,-.84,-4.13,.38,-4.28,.03,-5.02,.21,-5.33,-.05,-5.44,-1.8,-5.52,-2.85,-5.08]],
[.2,[-1.66,-5.02,-1.19,-4.88,-.89,-5,-1.36,-5.17]],
[.2,[-.79,-4.66,-.44,-4.61,-.61,-4.83]],
[0,[.82,-.86,1.34,-1.02,1.78,-1.97,.99,-2.36,.73,-1.86]],
[.2,[.96,-1.52,1.08,-1.24,1.13,-1.74,.99,-1.77]],
[-.4,[.47,-2.63,1.26,-2.3,1.61,-1.02,2.65,-1.08,3.19,-1.91,3.37,-2.3,3.46,-3.08,3.79,-3.97,4.14,-4.86,4.05,-5.22,3,-5.44,2.12,-5.56,1.34,-5.52,.91,-4.52,.65,-3.52]],
[-.6,[.56,-2.74,1.34,-2.3,1.87,-1.08,2.56,-1.08,3,-1.97,3.28,-2.3,3.28,-3.19,3.62,-3.97,3.97,-4.86,3,-5.44,2.21,-5.52,1.43,-5.41,.99,-4.41,.65,-3.47]],
[-.8,[.65,-2.74,1.43,-2.24,2.04,-1.13,2.56,-1.63,2.77,-2.02,3.19,-2.3,3.19,-3.3,3.62,-4.08,3.7,-4.86,3.19,-5.41,2.21,-5.41,1.52,-5.19,1.08,-4.3,.73,-3.41]],
[-1,[.73,-2.86,1.78,-2.24,2.48,-2.13,3,-2.41,3,-3.41,3.19,-4.3,3.1,-4.86,2.65,-5.05,1.96,-4.97,1.61,-4.63,1.08,-3.97,.77,-3.41]],
[-1.2,[.91,-3.19,1.34,-2.74,2.04,-2.24,2.82,-2.47,2.91,-3.41,3,-4.3,2.48,-4.52,1.96,-4.47,1.43,-4.08,.99,-3.63]],
[-1.4,[.99,-3.3,1.52,-2.8,2.12,-2.41,2.73,-2.58,2.82,-3.41,2.73,-4.02,2.12,-4.08,1.61,-3.91,1.08,-3.63]],
[-1.6,[1.34,-3.19,1.61,-2.86,2.3,-2.5,2.65,-2.74,2.73,-3.41,2.65,-3.69,2.12,-3.94,1.61,-3.69]],
[-1.8,[1.61,-3.25,1.96,-2.86,2.39,-2.63,2.65,-2.97,2.65,-3.47,2.21,-3.55,1.78,-3.47]],
[-2,[1.96,-3.13,2.21,-3.02,2.48,-3.08,2.3,-3.21,2.04,-3.21]],
[-.2,[3,-1.08,3.97,-.74,5.62,-1.21,5.8,-1.63,7.03,-2.13,8.42,-2.58,8.95,-1.86,9.48,-1.78,9.3,-2.3,8.67,-3.19,8.06,-4.19,7.9,-5.3,7,-5.41,6.12,-5.41,5.62,-5.72,4.92,-5.44,4.48,-5.16,4.14,-4.86,3.79,-3.97,3.46,-3.08,3.28,-2.3,3,-1.97]],
[0,[2.84,-1.08,3.97,-.74,4.4,-1.3,4.05,-1.97,2.98,-1.97]],
[.2,[3,-1.36,3.31,-1.33,3.26,-1.69,3,-1.74]],
[.2,[3.46,-1.52,3.97,-1.24,4.17,-1.47,3.97,-1.91]],
[0,[3.8,-3.19,4.14,-3.19,5.1,-3.74,5.9,-4.52,5.8,-5.08,5.1,-5.3,4.4,-4.63,3.97,-3.97]],
[.2,[3.97,-3.69,4.14,-3.4,4.92,-3.8,5.62,-4.58,5.7,-4.91,5.18,-4.91,4.4,-4.41]],
[.4,[4.22,-3.75,4.48,-3.58,5.27,-4.08,5.62,-4.58,5.54,-4.86,5.1,-4.58]],
[.6,[4.36,-3.8,4.48,-3.66,5.01,-3.94,4.66,-3.97]],
[.8,[4.48,-3.72,5.01,-3.94,4.83,-4.02]],
[-.4,[3.8,-2.3,4.31,-1.8,4.92,-1.69,5.97,-2.08,7.2,-2.63,8.14,-3.19,7.97,-3.69,7.2,-4.19,6.3,-4.3,5.27,-3.8,4.22,-3.08,3.91,-2.63]],
[-.6,[4.14,-2.08,4.83,-1.91,5.8,-2.36,7.38,-3.3,7.38,-3.52,6.12,-3.8,5.27,-3.47,4.66,-3.08]],
[-.8,[4.36,-2.3,4.54,-2.24,4.66,-2.47,4.57,-2.72,4.4,-2.58]],
[-.8,[5.9,-3.19,6.04,-3.04,6.4,-3.35,5.97,-3.39]],
[.2,[6.54,-1.69,6.6,-1.47,8.42,-1.61,8.42,-2.02,7.8,-2.41,7,-2.13]],
[.2,[10.21,-3.19,10.5,-2.86,10.82,-3.19,10.6,-3.47,10.33,-3.44]],
[-.2,[12.5,-2.54,12.85,-2.02,13.2,-1.83,13.85,-1.83,13.85,-2.58,13.5,-2.55]]
];

const panelFrames=[
 {id:'a',l:114,r:558,t:5,b:185,xMin:-10,xMax:10,long:false,outline:aOutline,base:aBase,contours:aContours,tag:'Pg',tagX:122,tagY:30,letterX:533,letterY:30,note:'X = -1',noteR:540,noteY:161,noteSize:23.5},
 {id:'b',l:598,r:1197,t:6,b:186,xMin:-12,xMax:15,long:true,outline:bOutline,base:bBase,contours:bContours,tag:'Pg',tagX:606,tagY:30,letterX:1170,letterY:30,note:'Y = 3',noteR:1178,noteY:160,noteSize:26},
 {id:'c',l:119,r:559,t:242,b:420,xMin:-10,xMax:10,long:false,outline:cOutline,base:cBase,contours:cContours,tag:'Pg',tagX:130,tagY:267,letterX:533,letterY:267,note:'X = 6',noteR:540,noteY:396,noteSize:24.5},
 {id:'d',l:117,r:561,t:483,b:662,xMin:-10,xMax:10,long:false,outline:dOutline,base:dBase,contours:dContours,tag:'Pg',tagX:126,tagY:507,letterX:536,letterY:506,note:'X = 2',noteR:546,noteY:635,noteSize:23},
 {id:'e',l:596,r:1196,t:483,b:663,xMin:-12,xMax:15,long:true,outline:eOutline,base:eBase,contours:eContours,tag:'Pg',tagX:603,tagY:507,letterX:1168,letterY:506,note:'Y = 0',noteR:1173,noteY:635,noteSize:24},
 {id:'f',l:116,r:561,t:730,b:910,xMin:-10,xMax:10,long:false,outline:fOutline,base:fBase,contours:fContours,tag:'Pg-Pmc',tagX:128,tagY:749,letterX:534,letterY:753,note:'X = 2',noteR:545,noteY:884,noteSize:24.5},
 {id:'g',l:598,r:1197,t:731,b:911,xMin:-12,xMax:15,long:true,outline:gOutline,base:gBase,contours:gContours,tag:'Pg-Pmc',tagX:605,tagY:751,letterX:1170,letterY:750,note:'Y = 0',noteR:1173,noteY:883,noteSize:25}
];
const pageTexts=[
 {s:'Distance, km',cx:325,cy:984,size:27},
 {s:'Distance, km',cx:930,cy:982,size:27},
 {s:'Velocity Perturbations (km/s)',cx:886,cy:395,size:24.5}
];
const FRAME='#b0b0b0', TICK='#bdbdbd', LABEL='#111';
const bandColor=v=>bandColors[bandEdges.findIndex(e=>Math.abs(e-v)<1e-6)];
const toPoints=(f,close)=>{const p=[];for(let i=0;i<f.length;i+=2)p.push({x:f[i],y:f[i+1]});if(close)p.push(p[0]);return p;};
const clipPlugin={id:'clipOutline',
 beforeDatasetsDraw(c,_,o){const g=c.ctx,X=c.scales.x,Y=c.scales.y;g.save();g.beginPath();
  toPoints(o.outline,false).forEach((p,i)=>{const a=X.getPixelForValue(p.x),b=Y.getPixelForValue(p.y);i?g.lineTo(a,b):g.moveTo(a,b);});
  g.closePath();g.clip();},
 afterDatasetsDraw(c){c.ctx.restore();}};
function addText(s,css){const d=document.createElement('div');d.className='t';d.textContent=s;Object.assign(d.style,css);document.body.appendChild(d);}
function fixTicks(values){return s=>{s.ticks=values.map(v=>({value:v}));};}
function noPad(s){s.paddingTop=s.paddingBottom=s.paddingLeft=s.paddingRight=0;}
const ML=60,MB=40,PAD=2;
panelFrames.forEach(p=>{
 const cv=document.createElement('canvas');const w=p.r-p.l+ML+PAD,h=p.b-p.t+MB+PAD;
 cv.width=w;cv.height=h;cv.style.cssText=`left:${p.l-ML}px;top:${p.t-PAD}px;width:${w}px;height:${h}px`;document.body.appendChild(cv);
 const ds=[{data:toPoints(p.outline,true),backgroundColor:bandColor(p.base),borderWidth:0,fill:'shape',showLine:true,pointRadius:0,tension:0}];
 p.contours.forEach(([v,f])=>ds.push({data:toPoints(f,true),backgroundColor:bandColor(v),borderColor:'rgba(15,45,45,.72)',borderWidth:.6,fill:'shape',showLine:true,pointRadius:0,tension:.3}));
 ds.reverse();
 const xt=p.long?longDistanceTicks:shortDistanceTicks, xl=p.long?longDistanceLabels:shortDistanceLabels;
 const grid={drawOnChartArea:false,drawTicks:true,tickLength:-10,color:TICK,lineWidth:1.5};
 const border={color:FRAME,width:1.5};
 const labelFont={family:'Liberation Sans',size:p.long?24:23};
 new Chart(cv,{type:'scatter',data:{datasets:ds},plugins:[clipPlugin],options:{
  responsive:false,animation:false,devicePixelRatio:1,events:[],
  layout:{padding:{top:PAD,right:PAD,left:0,bottom:0}},
  plugins:{legend:{display:false},tooltip:{enabled:false},clipOutline:{outline:p.outline}},
  scales:{
   x:{type:'linear',position:'bottom',min:p.xMin,max:p.xMax,grid,border,afterBuildTicks:fixTicks(xt),afterFit:s=>{s.height=MB;noPad(s);},
      ticks:{autoSkip:false,maxRotation:0,padding:16,color:LABEL,font:labelFont,callback:v=>xl.includes(v)?String(v):''}},
   y:{type:'linear',position:'left',min:-6,max:0,grid,border,afterBuildTicks:fixTicks(depthTicks),afterFit:s=>{s.width=ML;noPad(s);},
      ticks:{autoSkip:false,padding:27,color:LABEL,font:{family:'Liberation Sans',size:23},callback:v=>(!p.long&&depthLabels.includes(v))?String(v):''}},
   x2:{type:'linear',position:'top',min:p.xMin,max:p.xMax,grid,border,afterBuildTicks:fixTicks(xt),afterFit:s=>{s.height=0;noPad(s);},ticks:{display:false}},
   y2:{type:'linear',position:'right',min:-6,max:0,grid,border,afterBuildTicks:fixTicks(depthTicks),afterFit:s=>{s.width=0;noPad(s);},ticks:{display:false}}
  }}});
 addText(p.tag,{left:p.tagX+'px',top:p.tagY+'px',fontSize:p.tag.length>2?'27.5px':'26px'});
 addText(p.id,{left:p.letterX+'px',top:p.letterY+'px',fontSize:'22px',fontWeight:'bold',transform:'translate(-50%,-50%)'});
 addText(p.note,{right:(1198-p.noteR)+'px',top:p.noteY+'px',fontSize:p.noteSize+'px'});
});
(function(){
 const cv=document.createElement('canvas');cv.width=560;cv.height=70;cv.style.cssText='left:620px;top:305px;width:560px;height:70px';document.body.appendChild(cv);
 const inner={id:'innerTicks',afterDatasetsDraw(c){const g=c.ctx,X=c.scales.x,a=c.chartArea;g.save();g.strokeStyle='#222';g.lineWidth=1;
   colorbarTicks.forEach(v=>{const px=Math.round(X.getPixelForValue(v))+.5;g.beginPath();g.moveTo(px,a.bottom-12);g.lineTo(px,a.bottom);g.stroke();});g.restore();}};
 new Chart(cv,{type:'bar',plugins:[inner],data:{labels:['v'],datasets:bandEdges.map((e,i)=>({data:[[e,i<bandEdges.length-1?bandEdges[i+1]:1.2]],backgroundColor:bandColors[i],grouped:false,barPercentage:1,categoryPercentage:1,borderWidth:0}))},
 options:{indexAxis:'y',responsive:false,animation:false,devicePixelRatio:1,events:[],layout:{padding:{left:36,right:41,top:4,bottom:0}},
  plugins:{legend:{display:false},tooltip:{enabled:false}},
  scales:{y:{display:false},x:{type:'linear',min:-2,max:1.2,border:{display:false},grid:{drawOnChartArea:false,tickLength:6,color:'#333'},afterBuildTicks:fixTicks(colorbarTicks),afterFit:s=>{s.height=43;noPad(s);},
   ticks:{autoSkip:false,maxRotation:0,padding:6,color:LABEL,font:{family:'Liberation Sans',size:24},callback:(v,i)=>colorbarLabels[i]}}}}});
})();
pageTexts.forEach(t=>addText(t.s,{left:t.cx+'px',top:t.cy+'px',fontSize:t.size+'px',transform:'translate(-50%,-50%)'}));
addText('Depth below sea level, km',{left:'18px',top:'490px',fontSize:'26.5px',transform:'translate(-50%,-50%) rotate(-90deg)'});
</script>
</body></html>
